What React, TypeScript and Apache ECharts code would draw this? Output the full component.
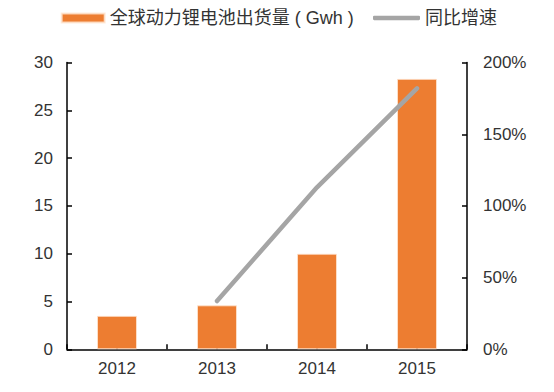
import React, { useEffect, useRef } from "react";
import * as echarts from "echarts";

const categories = ["2012", "2013", "2014", "2015"];
const shipments = [3.5, 4.6, 10.0, 28.3];
const growth = [null, 33.7, 113, 182];
const leftTicks = { min: 0, max: 30, interval: 5 };
const rightTicks = { min: 0, max: 200, interval: 50 };
const seriesNames = ["全球动力锂电池出货量 ( Gwh )", "同比增速"];

const FONT = "'Liberation Sans', Arial, 'Noto Sans CJK SC', sans-serif";
const CJK = "'Liberation Sans', 'Noto Sans CJK SC', sans-serif";

export default function App() {
  const ref = useRef<HTMLDivElement>(null);
  useEffect(() => {
    if (!ref.current) return;
    const chart = echarts.init(ref.current, undefined, { renderer: "svg" });
    const axisLine = { show: true, lineStyle: { color: "#000", width: 1.5 } };
    const tick = { show: true, inside: true, length: 5, lineStyle: { color: "#000", width: 1.5 } };
    const label = { color: "#333", fontSize: 17, fontFamily: FONT };
    const legendText = { fontSize: 18, color: "#333", fontFamily: CJK };
    chart.setOption({
      animation: false,
      textStyle: { fontFamily: FONT },
      legend: [
        {
          top: 9,
          left: 60.7,
          padding: 0,
          itemWidth: 43,
          itemHeight: 9,
          textStyle: legendText,
          data: [{ name: seriesNames[0], icon: "rect" }],
        },
        {
          top: 9,
          left: 373,
          padding: 0,
          itemWidth: 47,
          itemHeight: 4.5,
          textStyle: legendText,
          data: [{ name: seriesNames[1], icon: "roundRect" }],
        },
      ],
      grid: { left: 67, right: 87, top: 62.6, bottom: 42.7, containLabel: false },
      xAxis: [
        {
          type: "category",
          data: categories,
          axisLine,
          axisTick: tick,
          axisLabel: { ...label, margin: 11 },
          splitLine: { show: false },
        },
        {
          type: "category",
          data: categories,
          position: "bottom",
          axisLine: { show: false },
          axisTick: { ...tick, alignWithLabel: true },
          axisLabel: { show: false },
          splitLine: { show: false },
        },
      ],
      yAxis: [
        {
          type: "value",
          ...leftTicks,
          axisLine,
          axisTick: tick,
          axisLabel: { ...label, margin: 14 },
          splitLine: { show: false },
        },
        {
          type: "value",
          position: "right",
          ...rightTicks,
          axisLine,
          axisTick: tick,
          axisLabel: { ...label, margin: 16, formatter: "{value}%" },
          splitLine: { show: false },
        },
      ],
      series: [
        {
          name: seriesNames[0],
          type: "bar",
          data: shipments,
          barWidth: "40%",
          itemStyle: { color: "#ED7D31", borderColor: "rgba(255,230,210,0.8)", borderWidth: 1 },
        },
        {
          name: seriesNames[1],
          type: "line",
          yAxisIndex: 1,
          data: growth,
          symbol: "none",
          lineStyle: { color: "#A5A5A5", width: 4.5, cap: "round", join: "round" },
          itemStyle: { color: "#A5A5A5" },
        },
      ],
    });
    return () => chart.dispose();
  }, []);
  return <div ref={ref} style={{ width: 554, height: 392, position: "absolute", left: 0, top: 0 }} />;
}
